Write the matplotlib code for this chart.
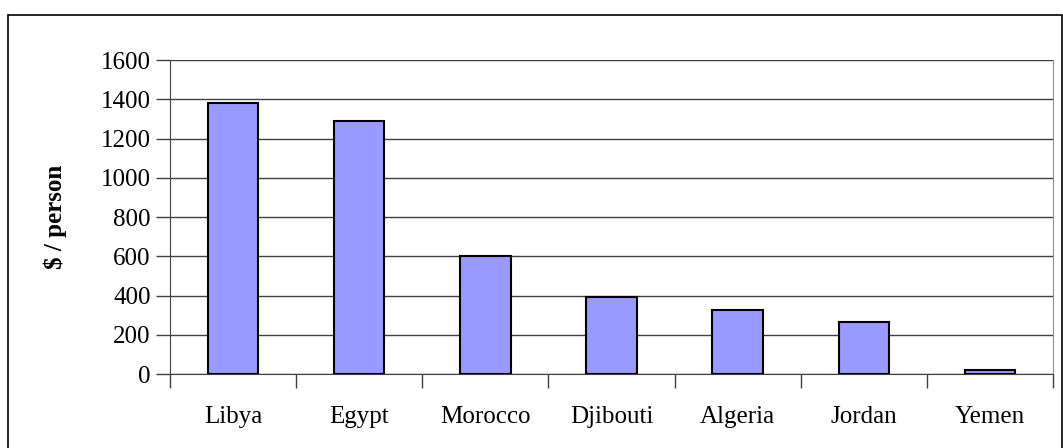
import numpy as np
import matplotlib.pyplot as plt
from matplotlib.patches import Rectangle

# data
countries = ['Libya', 'Egypt', 'Morocco', 'Djibouti', 'Algeria', 'Jordan', 'Yemen']
values = [1380, 1290, 600, 390, 325, 265, 18]

plt.rcParams['font.family'] = ['Liberation Serif', 'DejaVu Serif']

fig = plt.figure(figsize=(10.63, 4.48), dpi=100)
# outer chart frame (bottom runs off the image)
fig.patches.append(Rectangle((8 / 1063, -0.05), 1054 / 1063, 1.05 - 15 / 448,
                             transform=fig.transFigure, fill=False,
                             edgecolor='black', linewidth=1.2))

ax = fig.add_axes([170 / 1063, 1 - 374 / 448, 883 / 1063, 314 / 448])
x_pos = np.arange(len(countries))
ax.bar(x_pos, values, width=0.4, color='#9999ff', edgecolor='black',
       linewidth=1.5, zorder=3)

ax.set_xlim(-0.5, len(countries) - 0.5)
ax.set_ylim(0, 1600)
ax.set_yticks(np.arange(0, 1601, 200))
ax.yaxis.grid(True, color='#404040', linewidth=1.0, zorder=0)
ax.set_xticks(x_pos)
ax.set_xticklabels(countries, fontsize=18)
ax.tick_params(axis='x', length=0, pad=23)
ax.set_xticks(np.arange(-0.5, len(countries), 1), minor=True)
ax.tick_params(axis='x', which='minor', length=10, width=1, color='#404040')
ax.tick_params(axis='y', labelsize=18, length=10, width=1, pad=4, color='#404040')

ax.spines['top'].set_visible(False)
ax.spines['right'].set_color('#909090')
ax.spines['left'].set_color('#404040')
ax.spines['bottom'].set_color('#404040')

ax.set_ylabel('$ / person', fontsize=18, fontweight='bold', labelpad=24)

plt.savefig('out.png', dpi=100)
